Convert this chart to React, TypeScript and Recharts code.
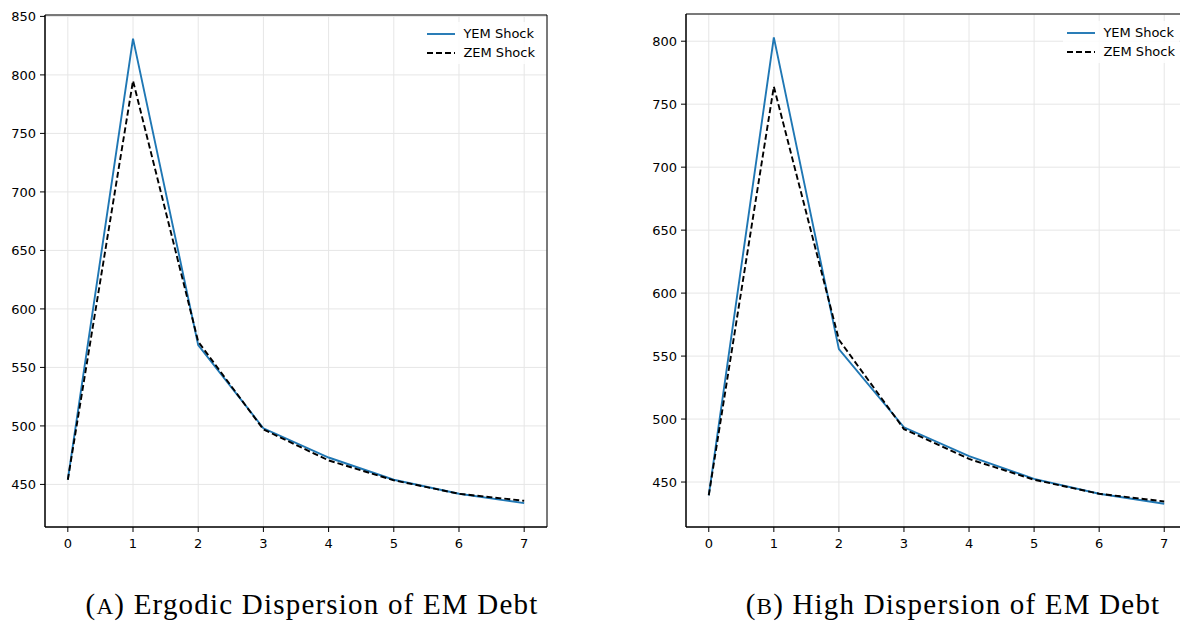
import React from 'react';
import { LineChart, Line, XAxis, YAxis, CartesianGrid, ReferenceArea } from 'recharts';

const periods = [0, 1, 2, 3, 4, 5, 6, 7];

const ergodicYem = [454, 831, 569, 498, 473, 454, 442, 434];
const ergodicZem = [454, 795, 572, 497, 470.5, 453.5, 442, 436];

const highYem = [439.5, 803, 555.5, 493.5, 470.5, 452.5, 440.7, 432.8];
const highZem = [439.5, 764, 563, 492, 468.3, 451.8, 440.7, 434.6];

const ergodicTicks = [450, 500, 550, 600, 650, 700, 750, 800, 850];
const highTicks = [450, 500, 550, 600, 650, 700, 750, 800];

const ergodicDomain: [number, number] = [413.6, 851.2];
const highDomain: [number, number] = [414.3, 821.6];
const xDomain: [number, number] = [-0.35, 7.35];

const seriesNames = ['YEM Shock', 'ZEM Shock'];

const tickStyle = { fontSize: 13, fill: '#000', fontFamily: 'DejaVu Sans' };

const LegendBox = () => (
  <div
    style={{
      background: 'rgba(255,255,255,0.8)',
      padding: '2px 4px',
      fontFamily: 'DejaVu Sans',
      fontSize: 13,
      color: '#000',
      lineHeight: '19px',
    }}
  >
    {seriesNames.map((n, i) => (
      <div key={n} style={{ display: 'flex', alignItems: 'center' }}>
        <svg width={28} height={10} style={{ marginRight: 8 }}>
          <line
            x1={0}
            y1={5}
            x2={28}
            y2={5}
            stroke={i === 0 ? '#1f77b4' : '#000'}
            strokeWidth={1.9}
            strokeDasharray={i === 0 ? undefined : '6 3'}
          />
        </svg>
        <span>{n}</span>
      </div>
    ))}
  </div>
);

interface PanelProps {
  yem: number[];
  zem: number[];
  ticks: number[];
  domain: [number, number];
  top: number;
  right: number;
}

const Panel: React.FC<PanelProps> = ({ yem, zem, ticks, domain, top, right }) => {
  const data = periods.map((p, i) => ({ t: p, yem: yem[i], zem: zem[i] }));
  return (
    <div style={{ position: 'relative', width: 560, height: 560 }}>
      <LineChart width={560} height={560} data={data} margin={{ top, right, left: 0, bottom: 0 }}>
        <CartesianGrid stroke="#e6e6e6" strokeWidth={1} />
        <XAxis
          dataKey="t"
          type="number"
          domain={xDomain}
          ticks={periods}
          allowDataOverflow
          height={33}
          tickSize={5}
          tickMargin={7}
          tick={tickStyle}
          stroke="#000"
          tickLine={{ stroke: '#000' }}
        />
        <YAxis
          type="number"
          domain={domain}
          ticks={ticks}
          allowDataOverflow
          width={45}
          tickSize={5}
          tickMargin={4}
          tick={tickStyle}
          stroke="#000"
          tickLine={{ stroke: '#000' }}
        />
        <ReferenceArea
          x1={xDomain[0]}
          x2={xDomain[1]}
          y1={domain[0]}
          y2={domain[1]}
          fill="none"
          stroke="#000"
          strokeWidth={1}
          ifOverflow="visible"
        />
        <Line
          dataKey="yem"
          name={seriesNames[0]}
          stroke="#1f77b4"
          strokeWidth={1.9}
          dot={false}
          isAnimationActive={false}
        />
        <Line
          dataKey="zem"
          name={seriesNames[1]}
          stroke="#000"
          strokeWidth={1.9}
          strokeDasharray="6 3"
          dot={false}
          isAnimationActive={false}
        />
      </LineChart>
      <div style={{ position: 'absolute', top: top + 7, right: right + 8 }}>
        <LegendBox />
      </div>
    </div>
  );
};

const captionStyle: React.CSSProperties = {
  position: 'absolute',
  top: 588,
  fontFamily: 'Liberation Serif',
  fontSize: 29,
  letterSpacing: 1.2,
  color: '#000',
  whiteSpace: 'nowrap',
  transform: 'translateX(-50%)',
};

const App = () => (
  <div
    style={{
      position: 'absolute',
      left: 0,
      top: 0,
      width: 1180,
      height: 622,
      overflow: 'hidden',
      background: '#fff',
    }}
  >
    <div style={{ position: 'absolute', left: 0, top: 0 }}>
      <Panel yem={ergodicYem} zem={ergodicZem} ticks={ergodicTicks} domain={ergodicDomain} top={15} right={13} />
    </div>
    <div style={{ position: 'absolute', left: 641, top: 0 }}>
      <Panel yem={highYem} zem={highZem} ticks={highTicks} domain={highDomain} top={14} right={14} />
    </div>
    <div style={{ ...captionStyle, left: 312 }}>
      (<span style={{ fontSize: '0.8em' }}>A</span>) Ergodic Dispersion of EM Debt
    </div>
    <div style={{ ...captionStyle, left: 953 }}>
      (<span style={{ fontSize: '0.8em' }}>B</span>) High Dispersion of EM Debt
    </div>
  </div>
);

export default App;
